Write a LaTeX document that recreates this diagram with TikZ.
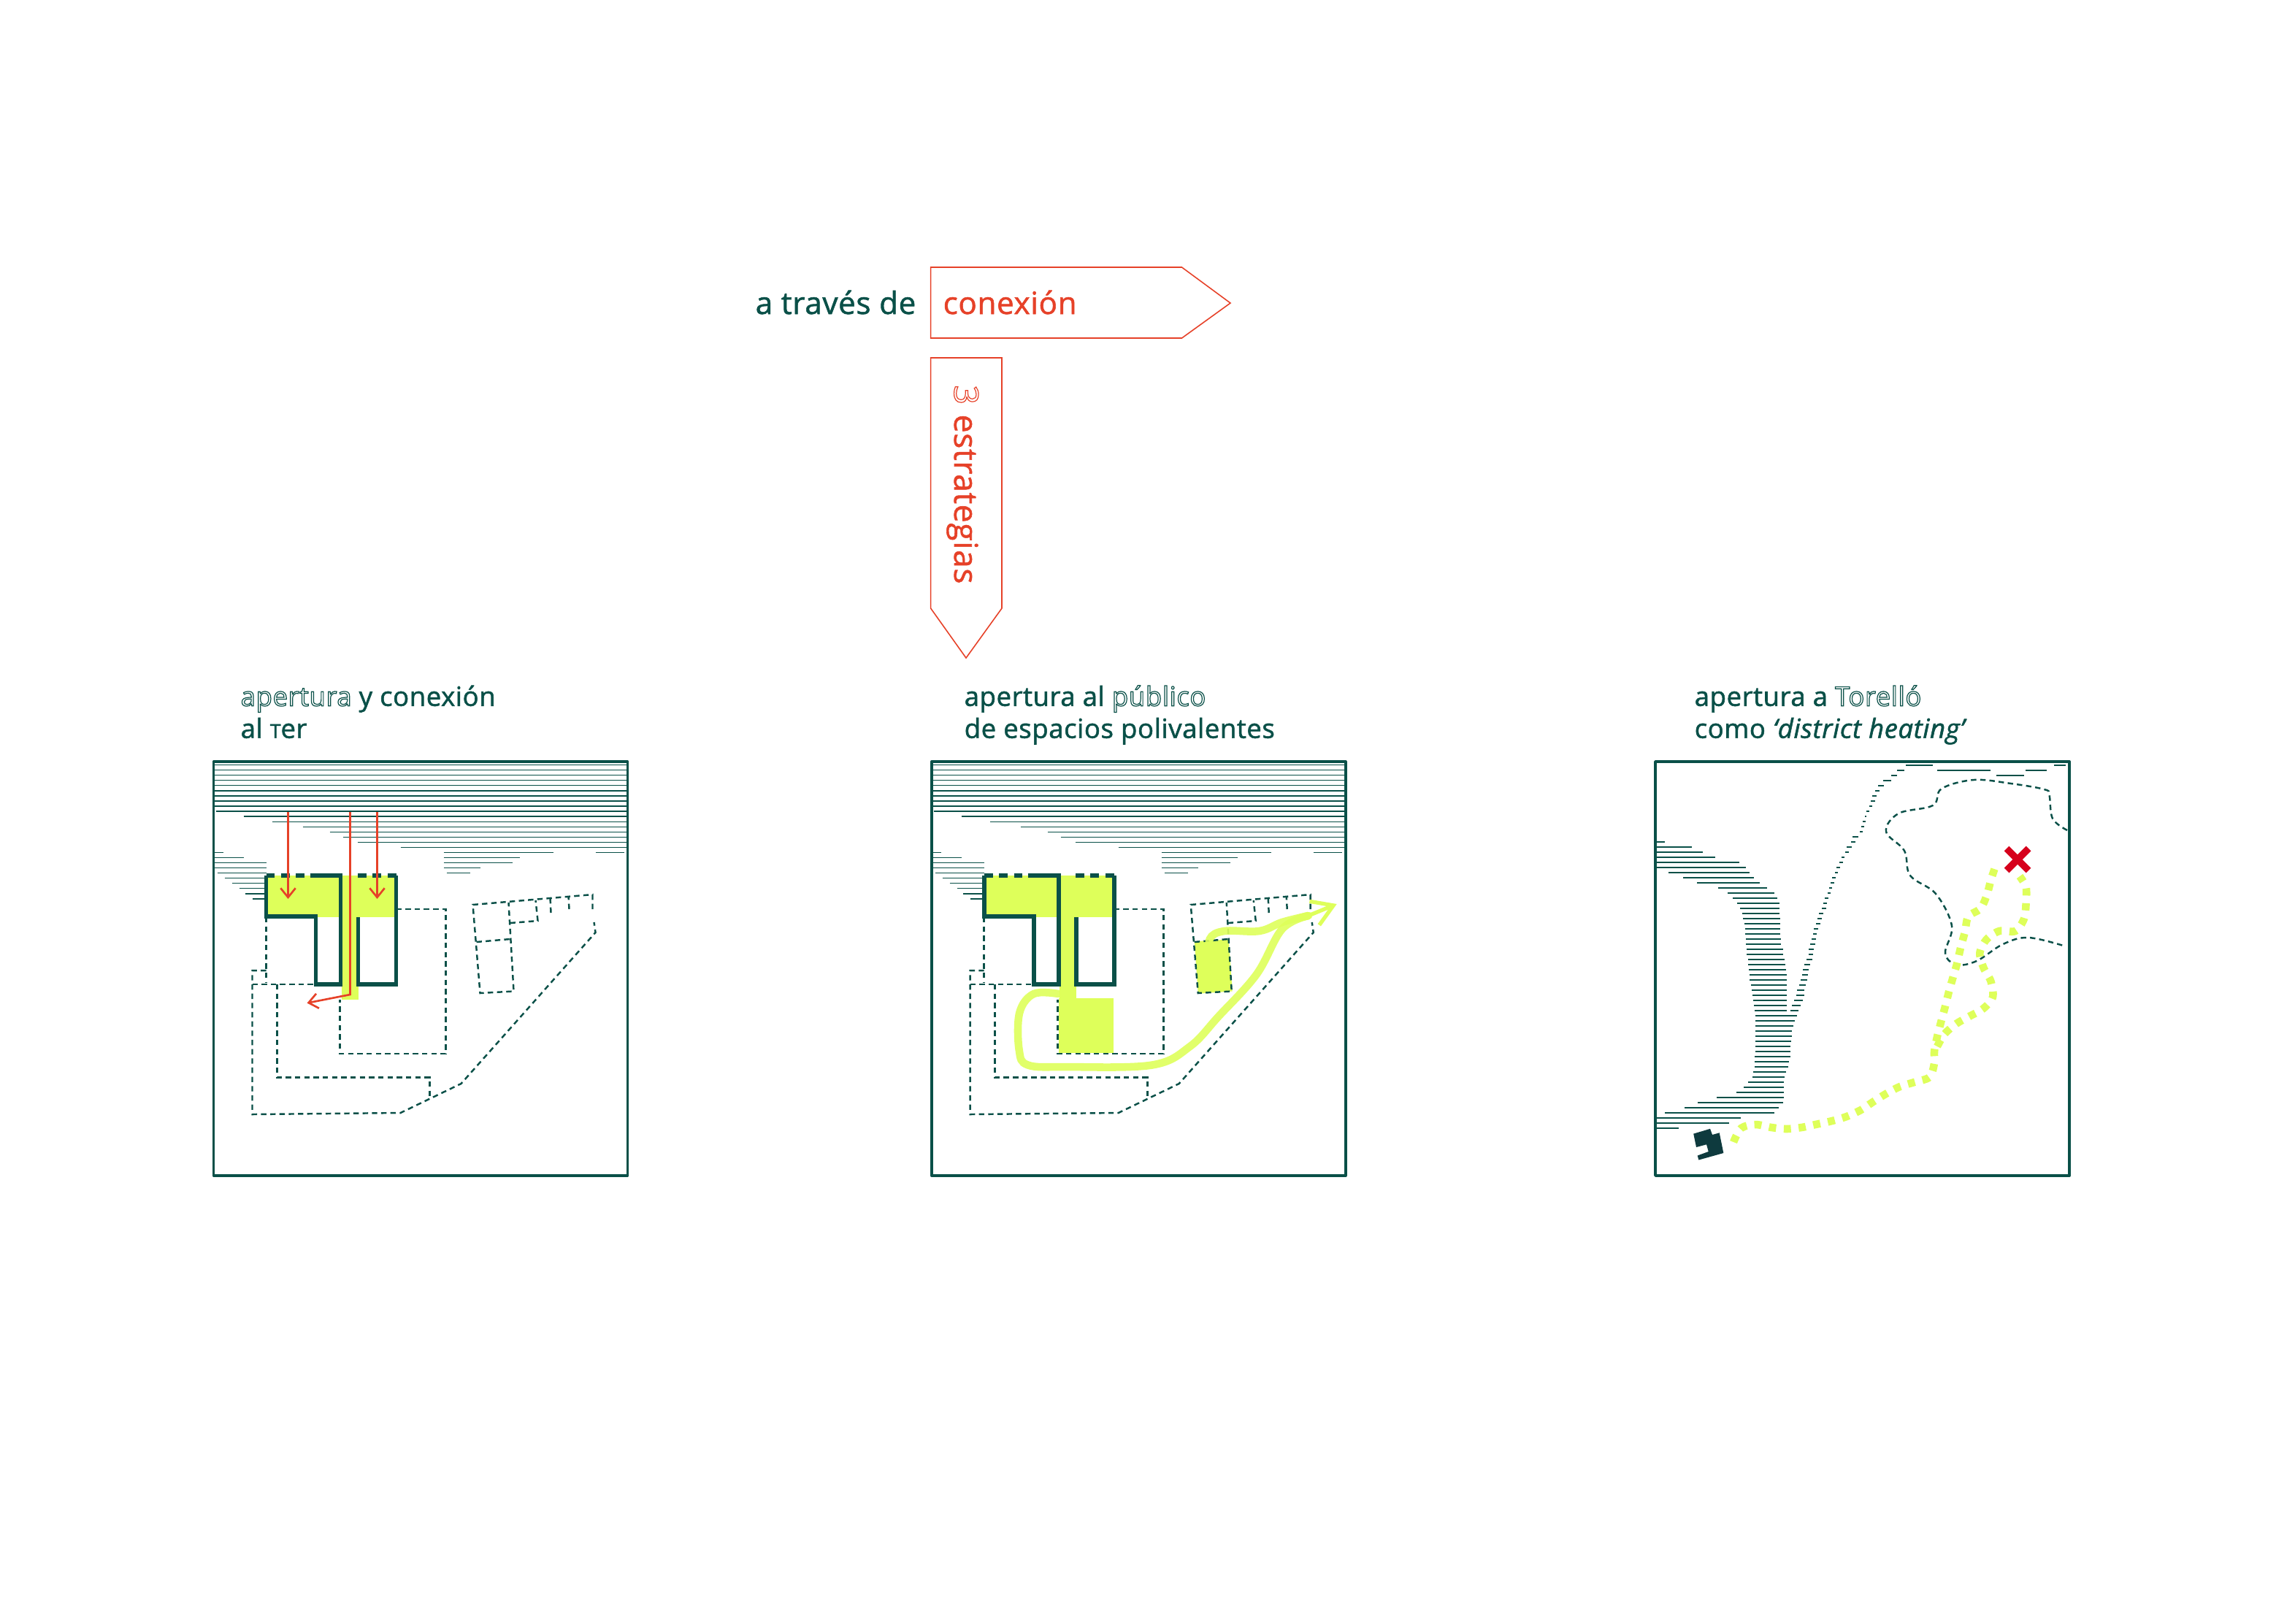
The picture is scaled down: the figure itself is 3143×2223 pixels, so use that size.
\documentclass[tikz,border=0pt]{standalone}
\usepackage{fontspec}
\setmainfont[LetterSpace=1.5]{Open Sans}
\usepackage{tikz}
\usetikzlibrary{arrows.meta}
\usepackage{xcolor}
\definecolor{deepgreen}{RGB}{10,80,72}
\definecolor{darkblock}{RGB}{14,58,62}
\definecolor{lime}{RGB}{222,255,90}
\definecolor{signred}{RGB}{230,65,40}
\definecolor{crossred}{RGB}{214,0,28}
\newcommand{\weighton}{\special{pdf:literal direct 2 Tr 0.16 w}}
\newcommand{\weightoff}{\special{pdf:literal direct 0 Tr}}
\newcommand{\hollowtext}[1]{\special{pdf:literal direct 1 Tr 0.34 w}#1\special{pdf:literal direct 2 Tr 0.16 w}}
\tikzset{
  framebox/.style={draw=deepgreen,line width=1.05pt,line join=round},
  hatchline/.style={draw=deepgreen,line width=0.38pt},
  wallline/.style={draw=deepgreen,line width=1.6pt,line join=miter},
  walldash/.style={wallline,dash pattern=on 3.4pt off 2.4pt},
  planline/.style={draw=deepgreen,line width=0.7pt,dash pattern=on 2.1pt off 1.5pt},
  redarrow/.style={draw=signred,line width=0.75pt,-{Straight Barb[length=3.6pt,width=5.8pt]}},
  tagline/.style={draw=signred,line width=0.45pt,line join=miter},
  captext/.style={text=deepgreen,font=\fontsize{10.4}{12.5}\selectfont,align=left,inner sep=0pt,
    execute at begin node=\weighton,execute at end node=\weightoff},
  bigtext/.style={font=\fontsize{12}{14}\selectfont,inner sep=0pt,
    execute at begin node=\weighton,execute at end node=\weightoff},
  limedots/.style={lime,line width=3pt,dash pattern=on 2.8pt off 3pt},
  limeroute/.style={lime,line width=3pt,line cap=round,opacity=0.9},
}
% hatching and plan shared by the first two frames
\newcommand{\sitehatch}{
  \foreach \k in {0,...,8} \draw[hatchline] (0,4.6+7.05*\k) -- (567,4.6+7.05*\k);
  \foreach \k/\a/\b in {9/3/567,10/41/567,11/80/567,12/122/567,13/159/567,14/177/567,15/197/567,16/256/567,
    17/0/13,17/315/465,17/523/562,18/0/41,18/315/419,19/0/72,19/315/409,20/0/72,20/315/365,21/5/72,21/319/351,
    22/15/70,23/25/70,24/35/70,25/43/70,26/53/70}
    \draw[hatchline] (\a,4.6+7.05*\k) -- (\b,4.6+7.05*\k);
}
\newcommand{\siteplan}{
  \draw[planline] (250,202) -- (318,202) -- (318,400) -- (173,400) -- (173,326);
  \draw[planline] (72,213) -- (72,303);
  \draw[planline] (72,286) -- (53,286) -- (53,483) -- (256,481) -- (339,441) -- (523,234) -- (521,220);
  \draw[planline] (53,305) -- (140,305);
  \draw[planline] (87,305) -- (87,432.5) -- (296,432.5) -- (296,459);
  \draw[planline] (519,202) -- (519,182) -- (355,196) -- (365,317) -- (411,314.5) -- (404,193);
  \draw[planline] (360,247) -- (406,243);
  \draw[planline] (406,221) -- (444,218) -- (441,190);
  \draw[planline] (462,207) -- (461,187);
  \draw[planline] (487,202) -- (486,184);
}
\newcommand{\sitewalls}{
  \draw[wallline] (132,156) -- (174,156) -- (174,305) -- (140,305) -- (140,212) -- (72,212) -- (72,156);
  \draw[walldash] (72,156) -- (132,156);
  \draw[wallline] (198,213) -- (198,305) -- (250,305) -- (250,156);
  \draw[walldash] (250,156) -- (197,156);
}
\begin{document}
\begin{tikzpicture}[x=0.01cm,y=-0.01cm]
\useasboundingbox (0,0) rectangle (3143,2223);

% headline tags
\node[bigtext,text=deepgreen,anchor=base west] (through) at (1034,430) {a través de};
\draw[tagline] (1274.6,366) -- (1618.5,366) -- (1685,415) -- (1618.5,463) -- (1274.6,463) -- cycle;
\node[bigtext,text=signred,anchor=base west] (link) at (1291,430) {conexión};
\draw[tagline] (1274.6,490) -- (1372,490) -- (1372,833) -- (1323,901) -- (1274.6,833) -- cycle;
\node[bigtext,text=signred,rotate=-90,anchor=base west,font=\fontsize{13}{15}\selectfont] (three) at (1307,527) {\hollowtext{3}};
\node[bigtext,text=signred,rotate=-90,anchor=base west,font=\fontsize{12.6}{15}\selectfont] (plans) at (1307,567) {estrategias};

% frame one
\node[captext,anchor=north west] (captionA) at (329,938) {\hollowtext{apertura} y conexión\\al {\fontsize{7.5}{9}\selectfont T}er};
\begin{scope}[shift={(292.5,1043)}]
  \fill[lime] (72,156) rectangle (250,213);
  \fill[lime] (175,213) rectangle (198,326);
  \sitehatch
  \siteplan
  \sitewalls
  \draw[redarrow] (102,69) -- (102,188);
  \draw[redarrow] (224,69) -- (224,188);
  \draw[redarrow] (187,69) -- (187,319) -- (128,330.6);
  \draw[framebox] (0,0) rectangle (567,567);
\end{scope}

% frame two
\node[captext,anchor=north west] (captionB) at (1320,938) {apertura al \hollowtext{público}\\de espacios polivalentes};
\begin{scope}[shift={(1275.7,1043)}]
  \fill[lime] (72,156) rectangle (250,213);
  \fill[lime] (175,213) rectangle (198,326);
  \fill[lime] (174,324) rectangle (249.5,399);
  \fill[lime] (360,246) -- (407,243.6) -- (412,314.5) -- (365,317.7) -- cycle;
  \sitehatch
  \siteplan
  \sitewalls
  \draw[limeroute] plot[smooth,tension=0.6] coordinates {(383,271) (381,243) (401,232) (449,232) (480,220) (516,211)};
  \draw[limeroute] plot[smooth,tension=0.6] coordinates {(174,318) (140,318) (120.5,344) (120,395) (132,415.5) (184,418) (302,415.5) (354,390) (393,349) (445,291.5) (480,229.5) (516,211)};
  \draw[lime,line width=1.5pt,-{Straight Barb[length=8pt,width=10pt]}] (516,211) -- (555,195);
  \draw[framebox] (0,0) rectangle (567,567);
\end{scope}

% frame three
\node[captext,anchor=north west] (captionC) at (2320,938) {apertura a \hollowtext{Torelló}\\como \textit{‘district heating’}};
\begin{scope}[shift={(2267,1043)}]
  \foreach \k/\a/\b in {0/0/13,1/0/50,2/0/65,3/0/82,4/0/115,5/0/124,6/18/129,7/38/135,8/57/143,9/86/153,10/99/163,
    11/106/167,12/112/170,13/116/170,14/119/170,15/120/171,16/122/171,17/123/171,18/123/171,19/124/172,20/124/172,
    21/125/175,22/125/175,23/127/177,24/127/178,25/128/179,26/129/180,27/129/180,28/131/180,29/132/180,30/133/180,
    31/134/180,32/135/180,33/136/180,34/137/194,35/137/191,36/137/189,37/137/187,38/137/187,39/137/186,40/137/185,
    41/137/185,42/136/185,43/136/183,44/136/182,45/134/179,46/133/177,47/127/176,48/121/176,49/111/176,50/84/176,
    51/58/175,52/40/169,53/13/163,54/0/117,55/0/101,56/0/32,
    30/192.5/204,31/190/202,32/187/199,33/184.6/196.4,
    29/194/204,28/197/206,27/199/208,26/200.5/209,25/202/210,24/204/212,23/207/215,22/209.5/216,21/210/217,20/212/219,
    19/214/220,18/216/221,17/217/223,16/220/226,15/222/228,14/224/230,13/228/234,12/230/235,11/232/237,10/236/240,
    9/238/242,8/240/245,7/242/247,6/246/250,5/248/253,4/252/257,3/255/259,2/260/265,1/262/269,0/268/274,
    -1/270/278,-2/280/284,-3/281.5/285.5,-4/283.5/287.5,-5/287/289,-6/289/293,-7/293/297,-8/295/301,-9/297/303,
    -10/301/307,-11/305/313,-12/312/323,-13/323/331,-14/331/341,-15/343/380,-14/386/459,-13/467/505,-14/507/536,-15/546/562}
    \draw[hatchline] (\a,110+7*\k) -- (\b,110+7*\k);
  \draw[planline] plot[smooth,tension=0.6] coordinates {(564,94) (544,78) (539.5,46) (532.5,38) (487,30) (436,25) (392,37) (380,60) (333,71) (316,96) (341,122) (349,156) (384,181) (406,225) (397,262) (412,278) (440,273) (476,250) (511,241) (562,253)};
  \draw[limedots] plot[smooth,tension=0.5] coordinates {(107,521) (117.4,502) (137,497) (159,501) (179,503) (200,501) (221,496.6) (242,492) (262,486) (281.5,477) (298,466) (316.5,454.5) (335,445) (354.6,439) (375.5,432) (382,413) (382,397) (386,376.5) (391.3,356) (397,335) (402,315) (408,294) (413,277) (418,255) (424,233) (428.6,212) (445.5,201) (454.5,181) (459.5,162) (465.5,144)};
  \draw[limedots] plot[smooth,tension=0.5] coordinates {(386,390) (396,373) (412,359) (429.7,349) (448.6,338.6) (462,322.6) (459.5,301) (449.5,282.4) (444.3,262) (453.4,243.6) (471,232) (493,232) (505,215) (507.6,194) (507.6,172) (499,157)};
  \fill[darkblock] (52.2,509.6) -- (75,502.8) -- (78,511) -- (87.7,508.3) -- (93.3,536) -- (59.3,545.5) -- (57.7,539.5) -- (72.7,534) -- (70,524.3) -- (56,528) -- cycle;
  \draw[crossred,line width=2.7pt] (481,119) -- (511,149) (511,119) -- (481,149);
  \draw[framebox] (0,0) rectangle (567,567);
\end{scope}
\end{tikzpicture}
\end{document}
